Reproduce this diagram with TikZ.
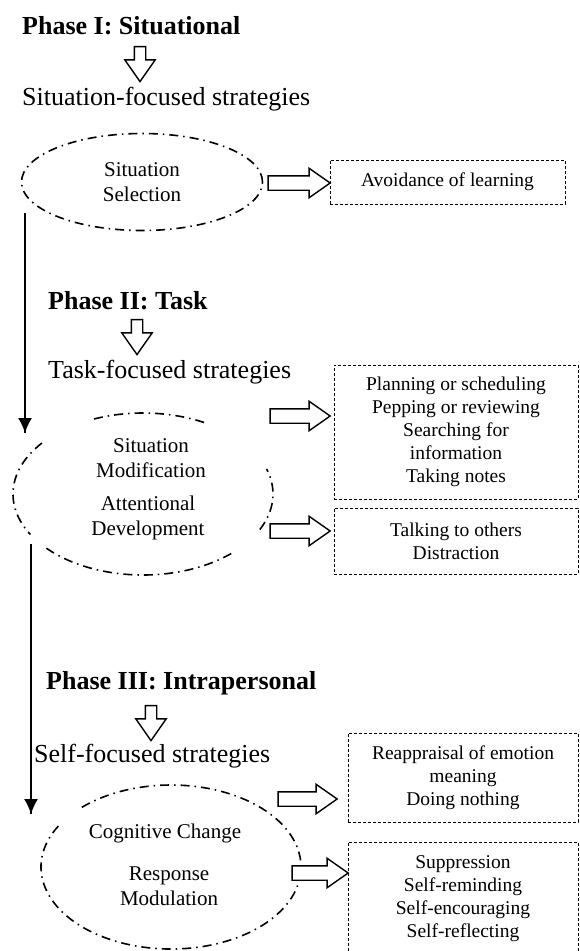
\documentclass[tikz,border=0pt]{standalone}
\usepackage{fontspec}
\setmainfont{Liberation Serif}
\usetikzlibrary{arrows.meta}
\usetikzlibrary{decorations.markings}
\usetikzlibrary{shapes.geometric}
\usetikzlibrary{shapes.arrows}
\tikzset{flow/.style = {line width=1.5pt,
                        decoration={markings,
                                    mark=at position 1 with {\arrow{Latex[length=15pt,width=14pt]}}},
                        postaction={decorate}}}
\tikzset{phase/.style = {anchor=west, inner sep=0, font=\bfseries\fontsize{26}{30}\selectfont}}
\tikzset{focus/.style = {anchor=west, inner sep=0, font=\fontsize{26}{30}\selectfont}}
\tikzset{region/.style = {line width=1.6pt, dash pattern=on 9pt off 5pt on 1.5pt off 5pt}}
\tikzset{inside/.style = {align=center, inner sep=0, font=\fontsize{21}{25}\selectfont}}
\tikzset{strat/.style = {draw, line width=1pt, dash pattern=on 3pt off 2pt, align=center,
                         inner sep=0, font=\fontsize{19.5}{23}\selectfont}}
\tikzset{hollow/.style = {draw, fill=white, single arrow, line width=1.4pt, inner sep=6.5pt,
                          single arrow head extend=7.5pt, single arrow tip angle=70,
                          minimum height=60pt}}
\tikzset{sink/.style = {hollow, fill=none, shape border rotate=270, inner sep=5pt,
                        minimum height=35pt, single arrow head extend=9.5pt}}

\begin{document}
\begin{tikzpicture}[x=1pt, y=1pt]
      \useasboundingbox (0,0) rectangle (579,-951);

      % phase I
      \node [phase] (ph1) at (22,-26) {Phase I: Situational};
      \node [sink] (dn1) at (140,-60) {};
      \node [focus] (fo1) at (22,-99) {Situation-focused strategies};
      \node [draw, ellipse, region, inner sep=0, minimum width=241, minimum height=97,
             align=center, font=\fontsize{21}{25}\selectfont] (sel) at (142,-182) {Situation\\Selection};
      \node [hollow, minimum height=62pt] (ar1) at (294,-183) {};
      \node [strat, minimum width=235, minimum height=44] (avoid) at (447.5,-182) {Avoidance of learning};

      \coordinate (v1s) at (25,-213);
      \coordinate (v1e) at (25,-433);
      \draw [flow] (v1s) -- (v1e);

      % phase II
      \node [phase] (ph2) at (48,-301) {Phase II: Task};
      \node [sink] (dn2) at (137,-333) {};
      \node [focus] (fo2) at (48,-372) {Task-focused strategies};
      \coordinate (mod) at (143,-494);
      \foreach \a/\b in {62/114, 141/210, 222/314, -26/18}
        \draw [region] (mod) ++(\a:130 and 81) arc [start angle=\a, end angle=\b, x radius=130, y radius=81];
      \node [inside] (sitmod) at (151,-458) {Situation\\Modification};
      \node [inside] (attdev) at (148,-518) {Attentional\\Development};
      \node [hollow] (ar2) at (295,-416) {};
      \node [hollow] (ar3) at (295,-531) {};
      \node [strat, minimum width=244, minimum height=134] (plan) at (456,-432)
            {Planning or scheduling\\Pepping or reviewing\\Searching for\\information\\Taking notes};
      \node [strat, minimum width=244, minimum height=66] (talk) at (456,-541)
            {Talking to others\\Distraction};

      \coordinate (v2s) at (31,-544);
      \coordinate (v2e) at (31,-814);
      \draw [flow] (v2s) -- (v2e);

      % phase III
      \node [phase] (ph3) at (46,-683) {Phase III: Intrapersonal};
      \node [sink] (dn3) at (151,-719) {};
      \node [focus] (fo3) at (34,-756) {Self-focused strategies};
      \coordinate (cog) at (171,-867);
      \draw [region] (cog) ++(150:130 and 82) arc [start angle=150, end angle=494, x radius=130, y radius=82];
      \node [inside] (cogch) at (165,-833) {Cognitive Change};
      \node [inside] (resp) at (169,-886) {Response\\Modulation};
      \node [hollow, minimum height=59pt] (ar4) at (302.5,-799) {};
      \node [hollow, minimum height=56pt] (ar5) at (315,-873) {};
      \node [strat, minimum width=230, minimum height=89] (reap) at (463,-777.5)
            {Reappraisal of emotion\\meaning\\Doing nothing};
      \node [strat, minimum width=230, minimum height=114] (supp) at (463,-899)
            {Suppression\\Self-reminding\\Self-encouraging\\Self-reflecting};
\end{tikzpicture}
\end{document}
